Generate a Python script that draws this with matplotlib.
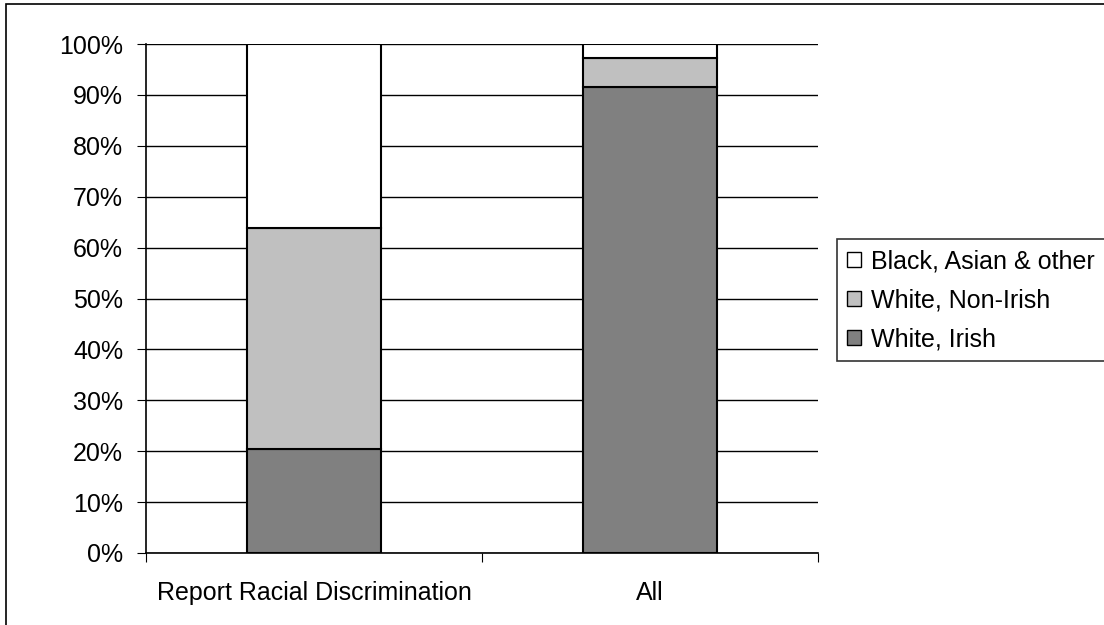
import numpy as np
from matplotlib import pyplot as plt
from matplotlib.patches import Rectangle
from matplotlib.ticker import PercentFormatter, FixedLocator

plt.rcParams["font.family"] = ["Liberation Sans", "DejaVu Sans"]

categories = ["Report Racial Discrimination", "All"]
white_irish = [20.5, 91.6]
white_non_irish = [43.3, 5.7]
other = [36.2, 2.7]
series_names = ["White, Irish", "White, Non-Irish", "Black, Asian & other"]
colors = ["#808080", "#C0C0C0", "#FFFFFF"]

fig = plt.figure(figsize=(11.04, 6.25), dpi=100)
ax = fig.add_axes([146 / 1104, 1 - 553 / 625, 672 / 1104, 509 / 625])

# outer chart border (right and bottom run off the image)
fig.patches.append(Rectangle((6 / 1104, -0.1), 1.2, 1 - 4 / 625 + 0.1,
                             transform=fig.transFigure, fill=False,
                             edgecolor="black", linewidth=1.2))

x = np.arange(len(categories)) + 0.5
bottom = np.zeros(len(categories))
handles = []
for vals, name, col in zip([white_irish, white_non_irish, other], series_names, colors):
    b = ax.bar(x, vals, width=0.4, bottom=bottom, color=col, edgecolor="black",
               linewidth=1.5, label=name, zorder=3)
    handles.append(b)
    bottom += np.array(vals)

ax.set_xlim(0, 2)
ax.set_ylim(0, 100)
ax.set_yticks(np.arange(0, 101, 10))
ax.yaxis.set_major_formatter(PercentFormatter(decimals=0))
ax.grid(axis="y", color="black", linewidth=1, zorder=0)

ax.set_xticks([0, 1, 2])
ax.set_xticklabels([])
ax.xaxis.set_minor_locator(FixedLocator(x))
ax.set_xticklabels(categories, minor=True)
ax.tick_params(axis="x", which="minor", length=0, pad=20, labelsize=18)
ax.tick_params(axis="x", which="major", length=6.5, direction="out")
ax.tick_params(axis="y", length=6.5, labelsize=18, pad=10)

for s in ["top", "right"]:
    ax.spines[s].set_visible(False)
ax.spines["left"].set_linewidth(1.2)
ax.spines["bottom"].set_linewidth(1.2)

leg = ax.legend(handles[::-1], series_names[::-1], loc="upper left",
                bbox_to_anchor=(837 / 1104, 1 - 239 / 625),
                bbox_transform=fig.transFigure, fontsize=18,
                frameon=True, fancybox=False, edgecolor="black",
                handlelength=0.55, handleheight=0.55, handletextpad=0.4,
                labelspacing=0.6, borderpad=0.4, borderaxespad=0)
leg.get_frame().set_linewidth(1.2)
for h in leg.legend_handles:
    h.set_linewidth(1)

fig.savefig("out.png", dpi=100)
